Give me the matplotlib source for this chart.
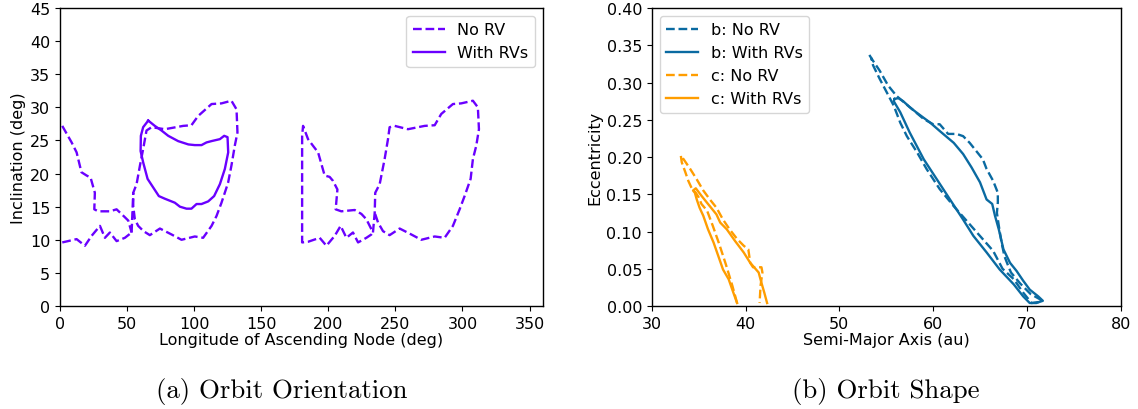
import matplotlib
matplotlib.use("Agg")
import matplotlib.pyplot as plt
import numpy as np

# ---- Orbit orientation contours (Omega [deg], inclination [deg]) ----
# No RV: wedge touching Omega = 0
norv_w1_upper_lan = [1.7, 8.7, 12.4, 16.0, 19.9, 22.8, 26.0, 25.6, 28.5, 37.2, 42.2, 48.4, 50.9, 53.4]
norv_w1_upper_inc = [27.2, 24.7, 23.2, 20.2, 19.7, 19.4, 17.1, 14.6, 14.3, 14.3, 14.6, 13.4, 12.9, 11.1]
norv_w1_lower_lan = [1.7, 12.4, 18.6, 23.6, 29.8, 33.5, 37.2, 42.2, 48.4, 53.4]
norv_w1_lower_inc = [9.6, 10.1, 9.1, 10.6, 12.1, 10.3, 11.1, 9.8, 10.3, 11.1]

# No RV: loop around Omega ~ 95
norv_l1_lan = [53.4, 54.6, 57.1, 59.6, 62.0, 64.5, 68.3, 78.2, 91.8, 98.0, 103.0, 113.0, 120.4,
               127.8, 131.6, 132.3, 130.3, 127.8, 125.3, 120.4, 116.7, 113.0, 106.7, 100.5, 90.6,
               83.2, 74.5, 67.0, 62.3, 58.3, 55.8, 54.6, 54.6]
norv_l1_inc = [11.1, 17.1, 18.4, 21.2, 23.7, 26.5, 27.0, 26.7, 27.2, 27.3, 28.7, 30.5, 30.6,
               31.0, 29.7, 26.2, 24.2, 21.2, 18.6, 15.6, 13.6, 12.1, 10.3, 10.5, 10.0,
               10.8, 11.7, 10.7, 11.3, 12.1, 13.1, 15.1, 17.1]

# No RV: wedge at Omega ~ 180
norv_w2_lan = [232.1, 228.4, 224.7, 219.7, 209.7, 205.5, 206.8, 203.5, 201.0, 197.3, 192.4, 188.6,
               184.9, 181.2, 180.5, 180.5, 180.5, 184.9, 193.6, 198.6, 204.8, 209.2, 213.5, 218.4,
               222.2, 228.4, 232.1, 233.3]
norv_w2_inc = [11.6, 13.1, 13.9, 14.5, 14.3, 14.6, 17.6, 18.9, 19.5, 19.7, 23.2, 24.2,
               25.2, 27.2, 25.7, 17.0, 9.6, 9.7, 10.3, 9.1, 10.6, 12.1, 10.3, 11.1,
               9.6, 10.3, 10.8, 11.1]

# No RV: loop around Omega ~ 275
norv_l2_lan = [233.3, 234.6, 235.0, 238.3, 242.0, 244.5, 245.7, 249.5, 259.4, 271.8, 279.3, 284.2,
               292.9, 299.1, 307.8, 311.5, 312.3, 310.3, 307.8, 306.1, 301.6, 297.9, 292.9, 286.7,
               279.3, 269.3, 261.9, 253.2, 245.7, 240.8, 237.1, 234.6]
norv_l2_inc = [11.1, 14.1, 17.1, 18.4, 22.2, 25.2, 27.0, 27.2, 26.7, 27.2, 27.3, 29.0,
               30.5, 30.6, 31.0, 30.0, 26.7, 24.2, 22.2, 19.2, 16.6, 14.6, 12.1, 10.3,
               10.5, 10.0, 10.8, 11.7, 10.7, 11.3, 12.6, 14.1]

# With RVs: single closed loop
rv_lan = [65.8, 62.0, 60.3, 60.1, 62.0, 65.3, 69.5, 73.7, 78.2, 85.6, 89.4, 94.3, 98.0, 101.8,
          105.5, 110.5, 114.9, 119.2, 122.9, 125.4, 124.9, 122.4, 119.2, 112.9, 109.2, 105.5,
          100.5, 95.7, 88.1, 80.7, 75.7, 70.7, 65.8]
rv_inc = [28.0, 27.0, 25.7, 23.4, 21.7, 19.2, 17.9, 16.6, 16.2, 15.6, 15.0, 14.7, 14.7, 15.4,
          15.4, 15.8, 16.6, 18.4, 20.7, 23.2, 25.5, 25.7, 25.2, 24.9, 24.7, 24.3,
          24.3, 24.4, 24.9, 25.7, 26.5, 27.2, 28.0]

# ---- Orbit shape contours (semi-major axis [au], eccentricity) ----
b_norv_a = [53.2, 53.6, 54.3, 55.2, 56.1, 57.5, 59.0, 60.0, 60.7, 61.6, 62.5, 63.2, 63.9, 64.6,
            65.3, 65.7, 66.4, 66.9, 66.9, 66.8, 67.0, 67.3, 67.6, 68.0, 68.3, 69.3, 70.4, 71.4,
            71.6, 70.5, 69.6, 68.6, 67.4, 66.4, 65.0, 63.6, 62.2, 60.7, 59.3, 58.3, 57.2, 56.5,
            55.8, 54.3, 53.6, 53.4]
b_norv_e = [0.337, 0.329, 0.316, 0.296, 0.282, 0.267, 0.251, 0.244, 0.244, 0.231, 0.231, 0.228, 0.219, 0.208,
            0.197, 0.184, 0.168, 0.152, 0.139, 0.125, 0.108, 0.085, 0.067, 0.054, 0.045, 0.030, 0.016, 0.009,
            0.006, 0.004, 0.018, 0.036, 0.050, 0.074, 0.094, 0.114, 0.134, 0.157, 0.184, 0.206, 0.228, 0.246,
            0.269, 0.305, 0.323, 0.333]

b_rv_a = [55.9, 56.3, 56.8, 57.5, 58.2, 59.7, 60.7, 62.2, 63.2, 64.1, 65.0, 65.7, 66.3, 66.6,
          67.0, 67.5, 68.2, 68.9, 69.6, 70.3, 71.2, 71.7, 71.0, 70.3, 69.6, 68.6, 67.1, 65.7,
          64.3, 63.2, 61.8, 60.4, 59.0, 57.5, 56.5, 55.8, 55.9]
b_rv_e = [0.278, 0.279, 0.275, 0.267, 0.260, 0.246, 0.235, 0.219, 0.204, 0.186, 0.166, 0.143, 0.137, 0.121,
          0.103, 0.076, 0.058, 0.047, 0.034, 0.022, 0.013, 0.007, 0.004, 0.004, 0.013, 0.029, 0.049, 0.072,
          0.094, 0.116, 0.143, 0.170, 0.197, 0.233, 0.260, 0.275, 0.278]

c_norv_a = [39.1, 38.6, 37.9, 37.2, 36.5, 35.9, 35.3, 35.0, 34.7, 34.3, 33.9, 33.6, 33.2, 33.1,
            33.4, 34.1, 34.8, 35.5, 36.2, 36.9, 37.6, 38.3, 39.1, 39.8, 40.3, 40.5, 40.8, 41.7,
            41.8, 41.6, 41.5]
c_norv_e = [0.004, 0.027, 0.056, 0.083, 0.108, 0.128, 0.137, 0.146, 0.152, 0.157, 0.168, 0.179, 0.193, 0.202,
            0.197, 0.184, 0.170, 0.155, 0.143, 0.132, 0.116, 0.103, 0.090, 0.081, 0.076, 0.058, 0.052, 0.052,
            0.045, 0.027, 0.004]

c_rv_a = [39.1, 38.7, 38.2, 37.6, 37.1, 36.6, 36.0, 35.5, 35.1, 34.8, 34.6, 34.4, 34.7, 35.3,
          36.0, 36.9, 37.3, 38.0, 38.9, 39.8, 40.5, 41.4, 41.7, 42.0, 42.3]
c_rv_e = [0.004, 0.018, 0.036, 0.049, 0.067, 0.085, 0.103, 0.121, 0.132, 0.143, 0.152, 0.155, 0.158, 0.148,
          0.137, 0.123, 0.112, 0.103, 0.087, 0.072, 0.058, 0.045, 0.031, 0.018, 0.004]

PURPLE = "#6a00ff"
BLUE = "#0a6aa1"
ORANGE = "#ff9d00"
LW = 1.7
FS = 11.5

plt.rcParams["font.family"] = ["DejaVu Sans"]
plt.rcParams["font.size"] = FS

fig = plt.figure(figsize=(11.38, 4.10), dpi=100)
ax1 = fig.add_axes([0.0527, 0.2512, 0.4244, 0.7268])
ax2 = fig.add_axes([0.5727, 0.2512, 0.4121, 0.7268])

# Orientation panel
ax1.plot(norv_w1_upper_lan, norv_w1_upper_inc, "--", color=PURPLE, lw=LW, label="No RV")
ax1.plot(norv_w1_lower_lan, norv_w1_lower_inc, "--", color=PURPLE, lw=LW)
ax1.plot(norv_l1_lan, norv_l1_inc, "--", color=PURPLE, lw=LW)
ax1.plot(norv_w2_lan, norv_w2_inc, "--", color=PURPLE, lw=LW)
ax1.plot(norv_l2_lan, norv_l2_inc, "--", color=PURPLE, lw=LW)
ax1.plot(rv_lan, rv_inc, "-", color=PURPLE, lw=LW, label="With RVs")
ax1.set_xlim(0, 360)
ax1.set_ylim(0, 45)
ax1.set_xticks(np.arange(0, 351, 50))
ax1.set_yticks(np.arange(0, 46, 5))
ax1.set_xlabel("Longitude of Ascending Node (deg)", labelpad=1)
ax1.set_ylabel("Inclination (deg)", labelpad=3)
ax1.legend(loc="upper right", fontsize=FS, handlelength=2.0)

# Shape panel
ax2.plot(b_norv_a, b_norv_e, "--", color=BLUE, lw=LW, label="b: No RV")
ax2.plot(b_rv_a, b_rv_e, "-", color=BLUE, lw=LW, label="b: With RVs")
ax2.plot(c_norv_a, c_norv_e, "--", color=ORANGE, lw=LW, label="c: No RV")
ax2.plot(c_rv_a, c_rv_e, "-", color=ORANGE, lw=LW, label="c: With RVs")
ax2.set_xlim(30, 80)
ax2.set_ylim(0, 0.40)
ax2.set_xticks(np.arange(30, 81, 10))
ax2.set_yticks(np.arange(0, 0.401, 0.05))
ax2.yaxis.set_major_formatter(matplotlib.ticker.FormatStrFormatter("%.2f"))
ax2.set_xlabel("Semi-Major Axis (au)", labelpad=1)
ax2.set_ylabel("Eccentricity", labelpad=3)
ax2.legend(loc="upper left", fontsize=FS, handlelength=2.0)

for ax in (ax1, ax2):
    for s in ax.spines.values():
        s.set_linewidth(1.0)

fig.text(0.2478, 0.030, "(a) Orbit Orientation", family="cmr10", fontsize=19.3,
         ha="center", va="baseline")
fig.text(0.7787, 0.030, "(b) Orbit Shape", family="cmr10", fontsize=19.3,
         ha="center", va="baseline")

fig.savefig("out.png", dpi=100)
